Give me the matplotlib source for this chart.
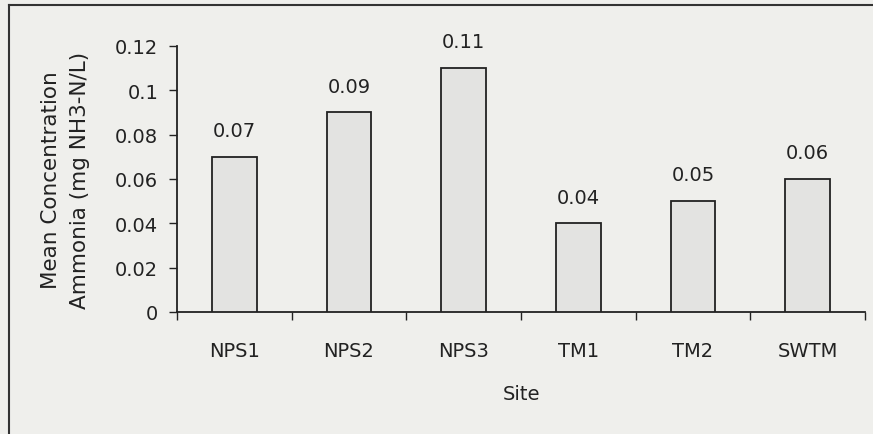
import numpy as np
import matplotlib.pyplot as plt
from matplotlib.lines import Line2D

plt.rcParams["font.family"] = ["DejaVu Sans"]
plt.rcParams["font.size"] = 14

sites = ["NPS1", "NPS2", "NPS3", "TM1", "TM2", "SWTM"]
conc = [0.07, 0.09, 0.11, 0.04, 0.05, 0.06]
conc_labels = ["0.07", "0.09", "0.11", "0.04", "0.05", "0.06"]
yticks = [0, 0.02, 0.04, 0.06, 0.08, 0.1, 0.12]
ytick_labels = ["0", "0.02", "0.04", "0.06", "0.08", "0.1", "0.12"]

bg = "#efefec"
ink = "#222222"

fig = plt.figure(figsize=(8.73, 4.35), dpi=100, facecolor=bg)
ax = fig.add_axes([177/873, 1-313/435, (865-177)/873, (313-47)/435])
ax.set_facecolor(bg)

idx = np.arange(len(sites))
ax.bar(idx, conc, width=0.39, color="#e3e3e1", edgecolor=ink, linewidth=1.3, zorder=3)
for x, v, t in zip(idx, conc, conc_labels):
    ax.annotate(t, (x, v), xytext=(0, 12), textcoords="offset points",
                ha="center", va="bottom", color=ink)

ax.set_xlim(-0.5, len(sites) - 0.5)
ax.set_ylim(0, 0.12)
ax.set_yticks(yticks)
ax.set_yticklabels(ytick_labels)

# ticks at category edges, labels at centres
ax.set_xticks(np.arange(len(sites) + 1) - 0.5)
ax.set_xticklabels([])
ax.set_xticks(idx, minor=True)
ax.set_xticklabels(sites, minor=True)
ax.tick_params(axis="x", which="major", direction="out", length=5.5, width=1, color=ink)
ax.tick_params(axis="x", which="minor", length=0, pad=21, labelcolor=ink)
ax.tick_params(axis="y", direction="out", length=5.5, width=1, color=ink, pad=8, labelcolor=ink)

for s in ["top", "right"]:
    ax.spines[s].set_visible(False)
for s in ["left", "bottom"]:
    ax.spines[s].set_color(ink)
    ax.spines[s].set_linewidth(1.3)

ax.set_xlabel("Site", labelpad=17, color=ink)
ax.set_ylabel("Mean Concentration\nAmmonia (mg NH3-N/L)", color=ink, fontsize=15.5,
              linespacing=1.55, labelpad=18)

# outer frame (left and top only visible)
fig.add_artist(Line2D([9/873, 9/873], [0, 1-6/435], color="#333333", linewidth=1.5))
fig.add_artist(Line2D([9/873, 1], [1-6/435, 1-6/435], color="#333333", linewidth=1.5))

fig.savefig("out.png", dpi=100, facecolor=bg)
